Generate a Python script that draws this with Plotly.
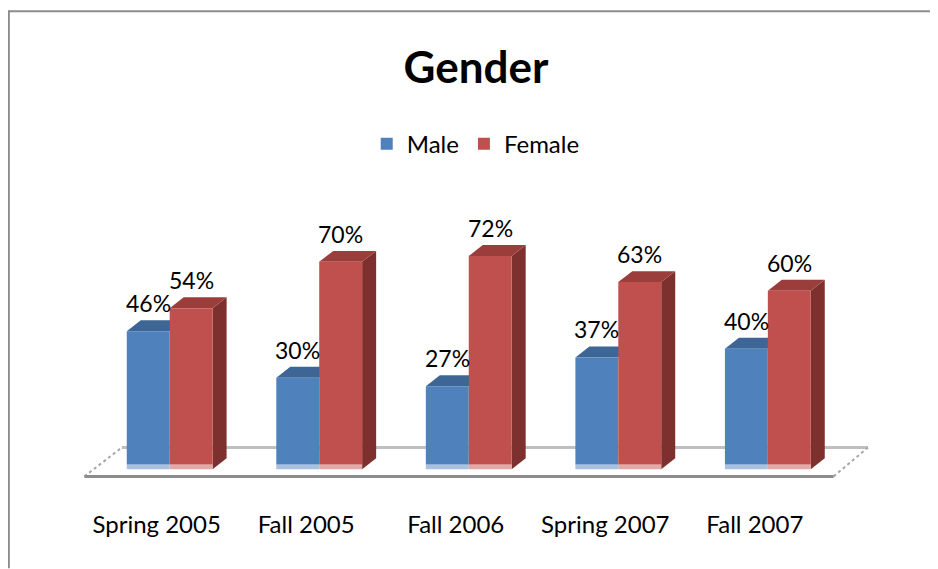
import plotly.graph_objects as go

categories = ["Spring 2005", "Fall 2005", "Fall 2006", "Spring 2007", "Fall 2007"]
male = [46, 30, 27, 37, 40]
female = [54, 70, 72, 63, 60]
value_labels_male = ["46%", "30%", "27%", "37%", "40%"]
value_labels_female = ["54%", "70%", "72%", "63%", "60%"]

FONT = "Lato"
OFF = 8  # page body margin
W, H = 938 - OFF, 569 - OFF
# plot area in screen pixels
SX0, SX1 = 65.35, 880.2   # x range edges
SY0, SY1 = 175, 479.5     # top, bottom
L, R = SX0 - OFF, W - (SX1 - OFF)
T, B = SY0 - OFF, H - (SY1 - OFF)
XR = [-0.7, 4.75]
YR = [-5, 100]
px_x = (SX1 - SX0) / (XR[1] - XR[0])
px_y = (SY1 - SY0) / (YR[1] - YR[0])

bw = 0.287
hw = bw / 2
dx = 14 / px_x
dy = 11 / px_y

C_M, C_M_TOP, C_M_PALE = "#4F81BD", "#3D6696", "#A9C1E0"
C_F, C_F_SIDE, C_F_TOP, C_F_PALE = "#C0504D", "#7E302E", "#9B3E3B", "#E3A9A7"

n = len(categories)
xm = [i - hw for i in range(n)]
xf = [i + hw for i in range(n)]

fig = go.Figure()
fig.add_trace(go.Bar(x=xm, y=male, width=bw, name="Male", marker=dict(color=C_M, line=dict(width=0)),
                     hoverinfo="skip"))
fig.add_trace(go.Bar(x=xf, y=female, width=bw, name="Female", marker=dict(color=C_F, line=dict(width=0)),
                     hoverinfo="skip"))

shapes = []
# floor
fx0, fx1 = -0.57, n - 1 + 0.44
floor_back = 5.9
floor_front = -4.1
shapes.append(dict(type="line", xref="x", yref="y", x0=fx0 + 0.25, x1=fx1 + 0.23, y0=floor_back, y1=floor_back,
                   line=dict(color="#BFBFBF", width=3), layer="below"))
shapes.append(dict(type="line", xref="x", yref="y", x0=fx0, x1=fx0 + 0.25, y0=floor_front, y1=floor_back,
                   line=dict(color="#A6A6A6", width=2, dash="dot"), layer="below"))
shapes.append(dict(type="line", xref="x", yref="y", x0=fx1, x1=fx1 + 0.23, y0=floor_front, y1=floor_back,
                   line=dict(color="#A6A6A6", width=2, dash="dot"), layer="below"))
shapes.append(dict(type="line", xref="x", yref="y", x0=fx0, x1=fx1, y0=floor_front, y1=floor_front,
                   line=dict(color="#8C8C8C", width=3), layer="above"))


def poly(pts, color):
    p = "M " + " L ".join(f"{x},{y}" for x, y in pts) + " Z"
    return dict(type="path", xref="x", yref="y", path=p, fillcolor=color, line=dict(width=0), layer="below")


for i in range(n):
    x0, x1, v = xm[i] - hw, xm[i] + hw, male[i]
    shapes.append(poly([(x0, v), (x1, v), (x1 + dx, v + dy), (x0 + dx, v + dy)], C_M_TOP))
    shapes.append(poly([(x0, 0), (x1, 0), (x1, -1.6), (x0, -1.6)], C_M_PALE))
    x0, x1, v = xf[i] - hw, xf[i] + hw, female[i]
    shapes.append(poly([(x1, -1.6), (x1, v), (x1 + dx, v + dy), (x1 + dx, dy - 1.6)], C_F_SIDE))
    shapes.append(poly([(x0, v), (x1, v), (x1 + dx, v + dy), (x0 + dx, v + dy)], C_F_TOP))
    shapes.append(poly([(x0, 0), (x1, 0), (x1, -1.6), (x0, -1.6)], C_F_PALE))


def sx(p):  # screen px -> paper x
    return (p - SX0) / (SX1 - SX0)


def sy(p):  # screen px -> paper y
    return (SY1 - p) / (SY1 - SY0)


# chart border (top and left edges visible)
shapes.append(dict(type="line", xref="paper", yref="paper", x0=sx(9.2), x1=sx(937), y0=sy(11), y1=sy(11),
                   line=dict(color="#8C8C8C", width=2), layer="below"))
shapes.append(dict(type="line", xref="paper", yref="paper", x0=sx(9.2), x1=sx(9.2), y0=sy(10), y1=sy(569),
                   line=dict(color="#8C8C8C", width=2), layer="below"))

annotations = []
for i in range(n):
    annotations.append(dict(x=xm[i], y=male[i], xref="x", yref="y", text=value_labels_male[i],
                            showarrow=False, yshift=28, font=dict(family=FONT, size=23, color="#000000")))
    annotations.append(dict(x=xf[i], y=female[i], xref="x", yref="y", text=value_labels_female[i],
                            showarrow=False, yshift=28, font=dict(family=FONT, size=23, color="#000000")))

fig.update_layout(
    width=W, height=H,
    margin=dict(l=L, r=R, t=T, b=B, pad=0),
    paper_bgcolor="white", plot_bgcolor="white",
    barmode="overlay",
    title=dict(text="<b>Gender</b>", x=(476 - OFF) / W, xanchor="center", y=1 - (68 - OFF) / H, yanchor="middle",
               font=dict(family=FONT, size=44, color="#000000")),
    legend=dict(orientation="h", x=sx(476), xanchor="center", y=sy(144), yanchor="middle",
                font=dict(family=FONT, size=24, color="#000000"), itemwidth=30, traceorder="normal"),
    xaxis=dict(range=XR, tickvals=list(range(n)), ticktext=categories, showgrid=False, zeroline=False,
               showline=False, ticks="", tickfont=dict(family=FONT, size=24, color="#000000"),
               ticklabelshift=-13, ticklabelstandoff=29),
    yaxis=dict(range=YR, showgrid=False, zeroline=False, showline=False, showticklabels=False, ticks=""),
    shapes=shapes,
    annotations=annotations,
    showlegend=True,
)

fig.write_html("out.html")
